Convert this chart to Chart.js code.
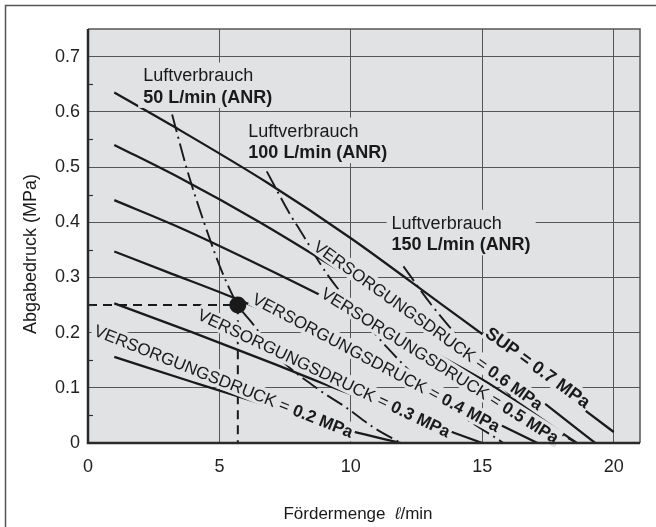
<!DOCTYPE html>
<html>
<head>
<meta charset="utf-8">
<title>Abgabedruck / Fördermenge</title>
<script src="https://cdn.jsdelivr.net/npm/chart.js@4.4.1/dist/chart.umd.min.js"></script>
<style>
html, body { margin: 0; padding: 0; background: #fff; }
#wrap { width: 656px; height: 527px; }
</style>
</head>
<body>
<div id="wrap"><canvas id="chart" width="656" height="527"></canvas></div>
<script>
(function () {
    'use strict';

    var xTicks = [0, 5, 10, 15, 20];
    var yTicks = [0, 0.1, 0.2, 0.3, 0.4, 0.5, 0.6, 0.7];
    var yMinorTicks = [0.05, 0.15, 0.25, 0.35, 0.45, 0.55, 0.65];

    // Versorgungsdruck curves: Fördermenge (l/min) -> Abgabedruck (MPa)
    var sup07Flow = [1, 3.2, 6.84, 10, 13.4, 16.5, 20];
    var sup07Press = [0.635, 0.575, 0.471, 0.371, 0.253, 0.145, 0.02];
    var sup06Flow = [1, 3.5, 6.5, 10, 15, 19.3];
    var sup06Press = [0.54, 0.48, 0.401, 0.30, 0.156, 0];
    var sup05Flow = [1, 3.5, 6.1, 10, 15, 18.6];
    var sup05Press = [0.44, 0.39, 0.332, 0.24, 0.115, 0];
    var sup04Flow = [1, 3, 5.6, 7.2, 10, 13, 17.1];
    var sup04Press = [0.347, 0.31, 0.262, 0.229, 0.165, 0.095, 0];
    var sup03Flow = [1, 4, 7.2, 9.2, 12, 15];
    var sup03Press = [0.253, 0.2, 0.141, 0.103, 0.052, 0];
    var sup02Flow = [1, 4, 7.2, 10, 11.9];
    var sup02Press = [0.156, 0.11, 0.062, 0.022, 0];

    // Luftverbrauch lines (dash-dot)
    var air50Flow = [3.2, 3.8, 4.6, 5.1, 5.7, 6.2, 7.3, 8.8, 9.8, 10.9, 11.9];
    var air50Press = [0.595, 0.49, 0.374, 0.31, 0.25, 0.22, 0.153, 0.096, 0.065, 0.027, 0];
    var air100Flow = [6.8, 7.74, 8.06, 9.08, 10.6, 11.36, 13.5, 15.8];
    var air100Press = [0.492, 0.41, 0.386, 0.307, 0.217, 0.174, 0.075, 0];
    var air150Flow = [12.0, 13.07, 14.3, 15.6, 17.0, 18.6];
    var air150Press = [0.32, 0.25, 0.18, 0.11, 0.045, 0];

    // operating point example and its reading lines
    var refFlow = [0, 5.7, 5.7];
    var refPress = [0.25, 0.25, 0];
    var opFlow = [5.7];
    var opPress = [0.25];

    var fontFamily = '"Liberation Sans", Arial, Helvetica, sans-serif';
    var ink = '#1a1a1a';
    var plotBg = '#e1e2e4';

    function zip(xs, ys) {
        return xs.map(function (x, i) {
            return { x: x, y: ys[i] };
        });
    }

    function curve(xs, ys) {
        return {
            data: zip(xs, ys),
            showLine: true,
            borderColor: ink,
            borderWidth: 2.3,
            pointRadius: 0,
            cubicInterpolationMode: 'monotone'
        };
    }

    function dashDot(xs, ys) {
        return {
            data: zip(xs, ys),
            showLine: true,
            borderColor: ink,
            borderWidth: 1.9,
            borderDash: [18, 5, 2, 5],
            pointRadius: 0,
            cubicInterpolationMode: 'monotone'
        };
    }

    // text annotations (anchor in data units)
    var pressureLabels = [
        { x: 15.21, y: 0.204, angle: 36, parts: [{ text: 'SUP = 0.7 MPa', bold: true }], size: 18 },
        { x: 8.67, y: 0.360, angle: 35.6, parts: [{ text: 'VERSORGUNGSDRUCK = ' }, { text: '0.6 MPa', bold: true }], size: 17 },
        { x: 8.94, y: 0.275, angle: 32.2, parts: [{ text: 'VERSORGUNGSDRUCK = ' }, { text: '0.5 MPa', bold: true }], size: 17 },
        { x: 6.31, y: 0.264, angle: 27.9, parts: [{ text: 'VERSORGUNGSDRUCK = ' }, { text: '0.4 MPa', bold: true }], size: 17 },
        { x: 4.22, y: 0.235, angle: 25.4, parts: [{ text: 'VERSORGUNGSDRUCK = ' }, { text: '0.3 MPa', bold: true }], size: 17 },
        { x: 0.27, y: 0.206, angle: 21.8, parts: [{ text: 'VERSORGUNGSDRUCK = ' }, { text: '0.2 MPa', bold: true }], size: 17 }
    ];
    var airLabels = [
        { x: 2.10, y: 0.655, line1: 'Luftverbrauch', line2: '50 L/min (ANR)' },
        { x: 6.10, y: 0.555, line1: 'Luftverbrauch', line2: '100 L/min (ANR)' },
        { x: 11.55, y: 0.388, line1: 'Luftverbrauch', line2: '150 L/min (ANR)' }
    ];

    function fontFor(part, size) {
        return (part.italic ? 'italic ' : '') + (part.bold ? 'bold ' : '') + size + 'px ' + fontFamily;
    }

    function drawParts(ctx, parts, x, y, size, bg, padX, padY) {
        var widths = [];
        var total = 0;
        parts.forEach(function (p) {
            ctx.font = fontFor(p, size);
            var w = ctx.measureText(p.text).width;
            widths.push(w);
            total += w;
        });
        var cap = size * 0.72;
        if (bg) {
            ctx.fillStyle = bg;
            ctx.fillRect(x - padX, y - cap / 2 - padY, total + padX * 2, cap + padY * 2);
        }
        ctx.fillStyle = ink;
        ctx.textAlign = 'left';
        ctx.textBaseline = 'alphabetic';
        var cx = x;
        parts.forEach(function (p, i) {
            ctx.font = fontFor(p, size);
            ctx.fillText(p.text, cx, y + cap / 2);
            cx += widths[i];
        });
        return total;
    }

    var decorPlugin = {
        id: 'decor',
        beforeDraw: function (chart) {
            var ctx = chart.ctx;
            var area = chart.chartArea;
            ctx.save();
            ctx.fillStyle = '#fff';
            ctx.fillRect(0, 0, chart.width, chart.height);
            ctx.strokeStyle = '#555';
            ctx.lineWidth = 1.5;
            ctx.beginPath();
            ctx.moveTo(5.5, chart.height);
            ctx.lineTo(5.5, 5.5);
            ctx.lineTo(chart.width, 5.5);
            ctx.stroke();
            ctx.fillStyle = plotBg;
            ctx.fillRect(area.left, area.top, area.right - area.left, area.bottom - area.top);
            ctx.restore();
        },
        afterDatasetsDraw: function (chart) {
            var ctx = chart.ctx;
            var xs = chart.scales.x;
            var ys = chart.scales.y;
            var area = chart.chartArea;
            ctx.save();

            pressureLabels.forEach(function (lab) {
                ctx.save();
                ctx.translate(xs.getPixelForValue(lab.x), ys.getPixelForValue(lab.y));
                ctx.rotate(lab.angle * Math.PI / 180);
                drawParts(ctx, lab.parts, 0, 0, lab.size, plotBg, 2, 3);
                ctx.restore();
            });

            airLabels.forEach(function (lab) {
                var size = 18;
                var left = xs.getPixelForValue(lab.x);
                var base1 = ys.getPixelForValue(lab.y);
                var base2 = base1 + 21.5;
                ctx.font = 'bold ' + size + 'px ' + fontFamily;
                var w2 = ctx.measureText(lab.line2).width;
                ctx.font = size + 'px ' + fontFamily;
                var w1 = ctx.measureText(lab.line1).width;
                var w = Math.max(w1, w2);
                ctx.fillStyle = plotBg;
                ctx.fillRect(left - 5, base1 - size * 0.72 - 6, w + 10, base2 - base1 + size * 0.72 + 11);
                ctx.fillStyle = ink;
                ctx.textAlign = 'left';
                ctx.textBaseline = 'alphabetic';
                ctx.fillText(lab.line1, left, base1);
                ctx.font = 'bold ' + size + 'px ' + fontFamily;
                ctx.fillText(lab.line2, left, base2);
            });

            // minor ticks on the pressure axis
            ctx.strokeStyle = '#333';
            ctx.lineWidth = 1.2;
            yMinorTicks.forEach(function (v) {
                var py = Math.round(ys.getPixelForValue(v)) + 0.5;
                ctx.beginPath();
                ctx.moveTo(area.left, py);
                ctx.lineTo(area.left + 5, py);
                ctx.stroke();
            });

            // plot frame
            ctx.strokeStyle = '#555';
            ctx.lineWidth = 1.5;
            ctx.beginPath();
            ctx.moveTo(area.left, area.top);
            ctx.lineTo(area.right, area.top);
            ctx.lineTo(area.right, area.bottom);
            ctx.stroke();
            ctx.strokeStyle = '#2a2a2a';
            ctx.lineWidth = 2.5;
            ctx.beginPath();
            ctx.moveTo(area.left, area.top);
            ctx.lineTo(area.left, area.bottom);
            ctx.lineTo(area.right, area.bottom);
            ctx.stroke();

            // axis titles
            ctx.fillStyle = ink;
            ctx.font = '18px ' + fontFamily;
            ctx.textAlign = 'center';
            ctx.textBaseline = 'middle';
            ctx.save();
            ctx.translate(31, 254);
            ctx.rotate(-Math.PI / 2);
            ctx.fillText('Abgabedruck (MPa)', 0, 0);
            ctx.restore();

            var titleParts = [{ text: 'Fördermenge  ' }, { text: 'ℓ', italic: true }, { text: '/min' }];
            var total = 0;
            titleParts.forEach(function (p) {
                ctx.font = fontFor(p, 17);
                total += ctx.measureText(p.text).width;
            });
            drawParts(ctx, titleParts, 358 - total / 2, 513, 17, null, 0, 0);

            ctx.restore();
        }
    };

    var chart = new Chart(document.getElementById('chart'), {
        type: 'scatter',
        data: {
            datasets: [
                curve(sup07Flow, sup07Press),
                curve(sup06Flow, sup06Press),
                curve(sup05Flow, sup05Press),
                curve(sup04Flow, sup04Press),
                curve(sup03Flow, sup03Press),
                curve(sup02Flow, sup02Press),
                dashDot(air50Flow, air50Press),
                dashDot(air100Flow, air100Press),
                dashDot(air150Flow, air150Press),
                {
                    data: zip(refFlow, refPress),
                    showLine: true,
                    borderColor: ink,
                    borderWidth: 2,
                    borderDash: [9, 6],
                    pointRadius: 0,
                    tension: 0
                },
                {
                    data: zip(opFlow, opPress),
                    showLine: false,
                    pointRadius: 8.5,
                    pointBackgroundColor: ink,
                    pointBorderColor: ink,
                    pointBorderWidth: 0
                }
            ]
        },
        options: {
            responsive: false,
            animation: false,
            devicePixelRatio: 1,
            layout: { padding: { left: 0, top: 29, right: 16, bottom: 0 } },
            plugins: {
                legend: { display: false },
                tooltip: { enabled: false }
            },
            scales: {
                x: {
                    type: 'linear',
                    min: 0,
                    max: 21,
                    afterBuildTicks: function (scale) {
                        scale.ticks = xTicks.map(function (v) { return { value: v }; });
                    },
                    afterFit: function (scale) {
                        scale.height = 84;
                    },
                    border: { display: false },
                    grid: { color: '#555', lineWidth: 1, drawTicks: false },
                    ticks: {
                        padding: 13,
                        color: '#222',
                        font: { family: fontFamily, size: 18 }
                    }
                },
                y: {
                    type: 'linear',
                    min: 0,
                    max: 0.75,
                    afterBuildTicks: function (scale) {
                        scale.ticks = yTicks.map(function (v) { return { value: v }; });
                    },
                    afterFit: function (scale) {
                        scale.width = 88;
                    },
                    border: { display: false },
                    grid: { color: '#555', lineWidth: 1, drawTicks: false },
                    ticks: {
                        padding: 8,
                        color: '#222',
                        font: { family: fontFamily, size: 18 },
                        callback: function (v) {
                            return v === 0 ? '0' : Number(v).toFixed(1);
                        }
                    }
                }
            }
        },
        plugins: [decorPlugin]
    });
})();
</script>
</body>
</html>
